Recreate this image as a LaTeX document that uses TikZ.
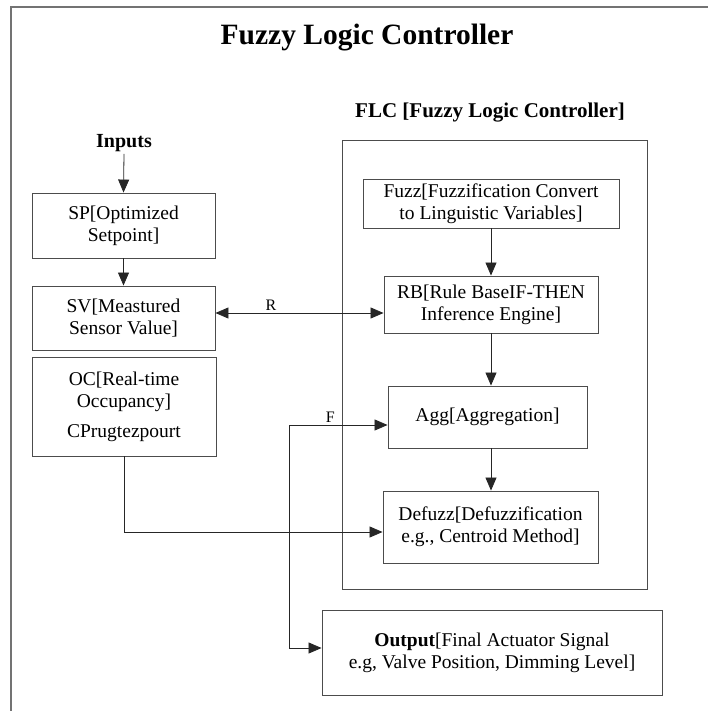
\documentclass[tikz,border=0pt]{standalone}
\usepackage{fontspec}
\setmainfont{Liberation Serif}
\usetikzlibrary{arrows.meta,calc}
\tikzset{
  box/.style={draw=black!70, line width=0.9pt, inner sep=0pt, align=center,
    font=\fontsize{19.5}{22}\selectfont},
  arr/.style={-{Triangle[length=13pt,width=11pt]}, line width=0.8pt, draw=black!85},
  darr/.style={{Triangle[length=13pt,width=11pt]}-{Triangle[length=13pt,width=11pt]}, line width=0.8pt, draw=black!85},
  lbl/.style={font=\fontsize{16}{18}\selectfont, inner sep=2pt},
  frame/.style={draw=black!55, line width=1.4pt}
}
\begin{document}
\begin{tikzpicture}[x=1pt,y=-1pt]
\useasboundingbox (0,0) rectangle (708,711);
% outer frame
\draw[frame] (11,715) -- (11,7) -- (712,7);
% titles
\node[font=\fontsize{29.5}{32}\selectfont\bfseries] (title) at (367,38) {Fuzzy Logic Controller};
\node[font=\fontsize{21}{24}\selectfont\bfseries] (flclabel) at (490,113) {FLC [Fuzzy Logic Controller]};
\node[font=\fontsize{20}{22}\selectfont\bfseries, inner sep=2pt] (inputs) at (124,143) {Inputs};
% FLC container
\node[draw=black!70, line width=0.9pt, minimum width=305pt, minimum height=449pt, inner sep=0pt] (flc) at (494.5,364.5) {};
% left boxes
\node[box, minimum width=183pt, minimum height=65pt] (sp) at (123.5,225.5) {SP[Optimized\\Setpoint]};
\node[box, minimum width=183pt, minimum height=64pt] (sv) at (123.5,318) {SV[Meastured\\Sensor Value]};
\node[box, minimum width=184pt, minimum height=99pt] (oc) at (124,406.5) {OC[Real-time\\Occupancy]\\[8pt]CPrugtezpourt};
% FLC inner boxes
\node[box, minimum width=256pt, minimum height=49pt] (fuzz) at (491,203.5) {Fuzz[Fuzzification Convert\\to Linguistic Variables]};
\node[box, minimum width=214pt, minimum height=57pt] (rb) at (491,304.5) {RB[Rule BaseIF-THEN\\Inference Engine]};
\node[box, minimum width=199pt, minimum height=62pt] (agg) at (487.5,417) {Agg[Aggregation]};
\node[box, minimum width=215pt, minimum height=72pt] (defuzz) at (490.5,527) {Defuzz[Defuzzification\\e.g., Centroid Method]};
\node[box, minimum width=340pt, minimum height=85pt] (out) at (492,652.5) {\textbf{Output}[Final Actuator Signal\\e.g, Valve Position, Dimming Level]};
% helper coordinates
\coordinate (ry) at (0,313);
\coordinate (fc) at (289,425);
\coordinate (fo) at (289,648);
\coordinate (dy) at (0,532);
% connectors
\draw[arr] (inputs.south) -- (sp.north);
\draw[arr] (sp.south) -- (sv.north);
\draw[darr] (sv.east |- ry) -- node[lbl, above, pos=0.33] {R} (rb.west |- ry);
\draw[arr] (fuzz.south -| rb.north) -- (rb.north);
\draw[arr] (rb.south) -- (rb.south |- agg.north);
\draw[arr] (rb.south |- agg.south) -- (rb.south |- defuzz.north);
\draw[arr] (oc.south) |- (defuzz.west |- dy);
\draw[darr] (agg.west |- fc) -- node[lbl, above, pos=0.58] {F} (fc) -- (fo) -- (out.west |- fo);
\end{tikzpicture}
\end{document}
